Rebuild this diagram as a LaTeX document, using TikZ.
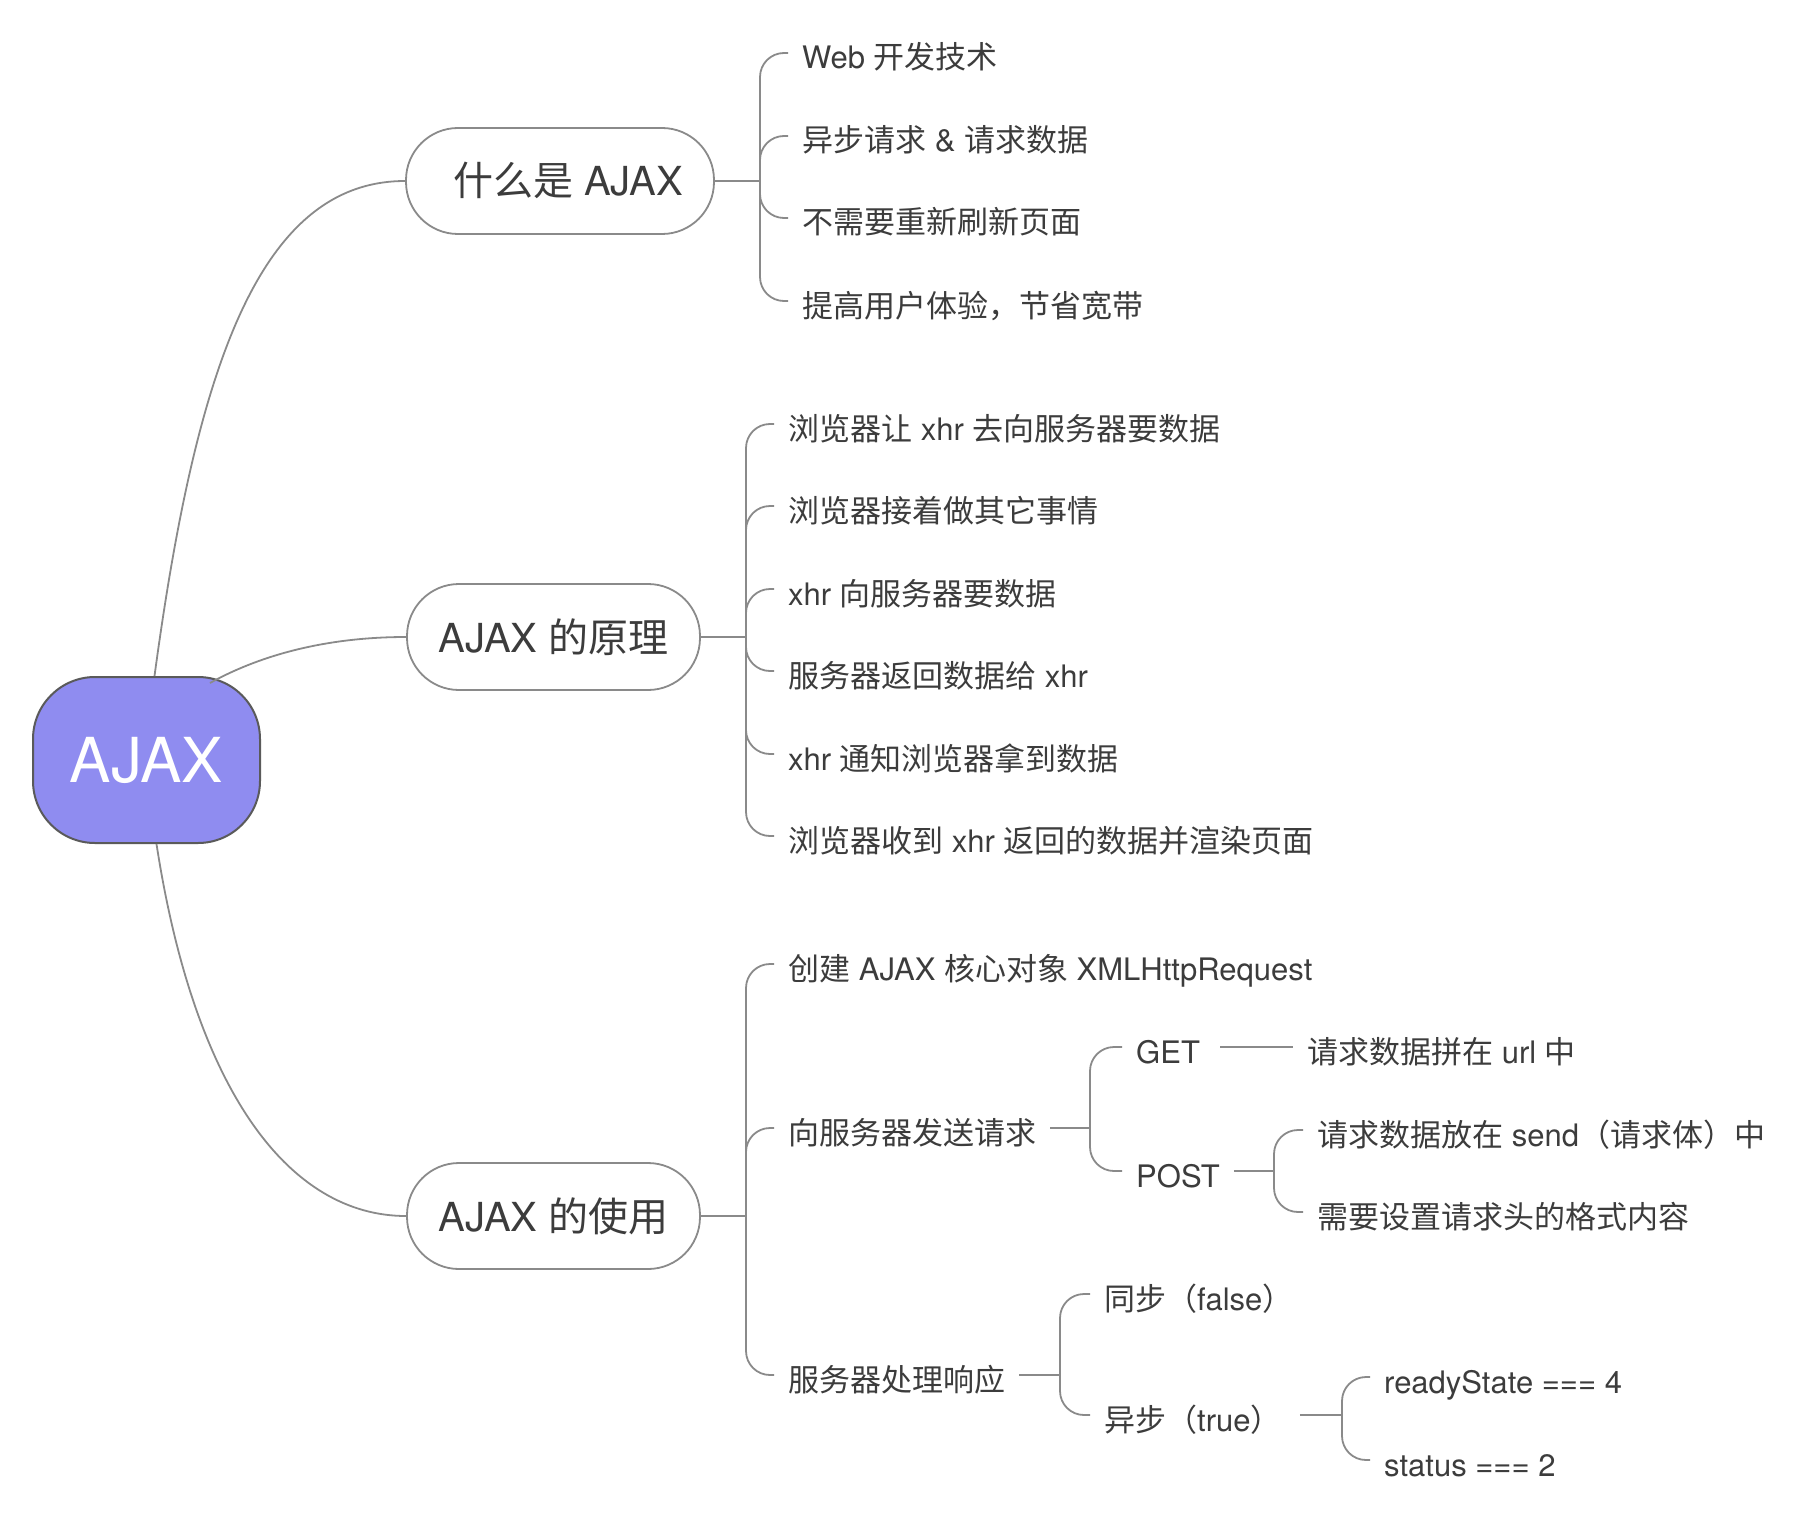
\documentclass[tikz,border=0pt]{standalone}
\usepackage{fontspec}
\setmainfont{TeX Gyre Heros}
\newfontfamily\cjkfont{Noto Sans CJK SC}
% Chinese characters go to the CJK font, the rest stays in Heros
\XeTeXinterchartokenstate=1
\chardef\cjkclass=1
\newcount\cjkcode
\cjkcode="4E00
\loop\XeTeXcharclass\cjkcode=\cjkclass\advance\cjkcode by 1\relax\ifnum\cjkcode<"A000\repeat
\XeTeXcharclass"FF08=\cjkclass
\XeTeXcharclass"FF09=\cjkclass
\XeTeXcharclass"FF0C=\cjkclass
\XeTeXinterchartoks 0 \cjkclass={\cjkfont}
\XeTeXinterchartoks 4095 \cjkclass={\cjkfont}
\XeTeXinterchartoks \cjkclass 0={\normalfont}
\XeTeXinterchartoks \cjkclass 4095={\normalfont}
\definecolor{txtgray}{RGB}{60,60,60}
\definecolor{linegray}{RGB}{138,138,138}
\definecolor{rootfill}{RGB}{143,140,240}
\definecolor{rootline}{RGB}{90,90,90}

\begin{document}
\begin{tikzpicture}[x=1pt,y=-1pt]
        \tikzstyle{every node}=[text=txtgray]
        \tikzstyle{link}=[draw=linegray, line width=1.8pt]
        \tikzstyle{brace}=[link, rounded corners=24pt]
        \tikzstyle{topic}=[draw=linegray, line width=1.8pt, fill=white, rounded corners=52pt, minimum height=106pt, minimum width=293pt, inner sep=0pt, text height=34pt, text depth=4pt, font=\fontsize{40}{48}\selectfont]
        \tikzstyle{leaf}=[anchor=west, inner xsep=14pt, inner ysep=0pt, text height=32pt, text depth=0pt, font=\fontsize{31}{37}\selectfont]
        \useasboundingbox (0,0) rectangle (1806,1514);
        \node[draw=rootline, line width=2pt, fill=rootfill, text=white, rounded corners=62pt, minimum width=227pt, minimum height=166pt, text height=44pt, text depth=0pt, font=\fontsize{62}{70}\selectfont] (root) at (146.5,760) {AJAX};
        \node[topic, minimum width=308pt] (what) at (560,181) {\hspace{16pt}什么是 AJAX};
        \node[topic] (how) at (553.5,637) {AJAX 的原理};
        \node[topic] (use) at (553.5,1216) {AJAX 的使用};
        \draw[link] ([xshift=8pt]root.north) .. controls (195,377) and (256,181) .. (what.west);
        \draw[link] ([xshift=-7pt,yshift=-7pt]root.50) .. controls (255,658) and (320,637) .. (how.west);
        \draw[link] ([xshift=10pt]root.south) .. controls (195,1093) and (290,1216) .. (use.west);
        % what is ajax
        \node[leaf] (w1) at (788,53) {Web 开发技术};
        \node[leaf] (w2) at (788,136) {异步请求 \& 请求数据};
        \node[leaf] (w3) at (788,218) {不需要重新刷新页面};
        \node[leaf] (w4) at (788,301) {提高用户体验，节省宽带};
        \draw[link] (what.east) -- (760,181) coordinate (jw);
        \foreach \i in {1,...,4} \draw[brace] (jw) |- (w\i.west);
        % how it works
        \node[leaf] (h1) at (774,424) {浏览器让 xhr 去向服务器要数据};
        \node[leaf] (h2) at (774,506) {浏览器接着做其它事情};
        \node[leaf] (h3) at (774,589) {xhr 向服务器要数据};
        \node[leaf] (h4) at (774,671) {服务器返回数据给 xhr};
        \node[leaf] (h5) at (774,754) {xhr 通知浏览器拿到数据};
        \node[leaf] (h6) at (774,836) {浏览器收到 xhr 返回的数据并渲染页面};
        \draw[link] (how.east) -- (746,637) coordinate (jh);
        \foreach \i in {1,...,6} \draw[brace] (jh) |- (h\i.west);
        % how to use it
        \node[leaf] (u1) at (774,964) {创建 AJAX 核心对象 XMLHttpRequest};
        \node[leaf] (u2) at (774,1128) {向服务器发送请求};
        \node[leaf] (u3) at (774,1375) {服务器处理响应};
        \draw[link] (use.east) -- (746,1216) coordinate (ju);
        \foreach \i in {1,...,3} \draw[brace] (ju) |- (u\i.west);
        \node[leaf] (get) at (1122,1047) {GET};
        \node[leaf] (post) at (1122,1171) {POST};
        \node[leaf] (url) at (1293,1047) {请求数据拼在 url 中};
        \node[leaf] (send) at (1303,1130) {请求数据放在 send（请求体）中};
        \node[leaf] (header) at (1303,1212) {需要设置请求头的格式内容};
        \draw[link] (u2.east) -- (1090,1128) coordinate (jr);
        \draw[brace] (jr) |- (get.west);
        \draw[brace] (jr) |- (post.west);
        \draw[link] ([xshift=6pt]get.east) -- (url.west);
        \draw[link] (post.east) -- (1274,1171) coordinate (jp);
        \draw[brace] (jp) |- (send.west);
        \draw[brace] (jp) |- (header.west);
        \node[leaf] (sync) at (1090,1294) {同步（false）};
        \node[leaf] (async) at (1090,1415) {异步（true）};
        \node[leaf] (ready) at (1370,1377) {readyState === 4};
        \node[leaf] (status) at (1370,1460) {status === 2};
        \draw[link] (u3.east) -- (1060,1375) coordinate (js);
        \draw[brace] (js) |- (sync.west);
        \draw[brace] (js) |- (async.west);
        \draw[link] ([xshift=4pt]async.east) -- (1342,1415) coordinate (ja);
        \draw[brace] (ja) |- (ready.west);
        \draw[brace] (ja) |- (status.west);
    \end{tikzpicture}
\end{document}
